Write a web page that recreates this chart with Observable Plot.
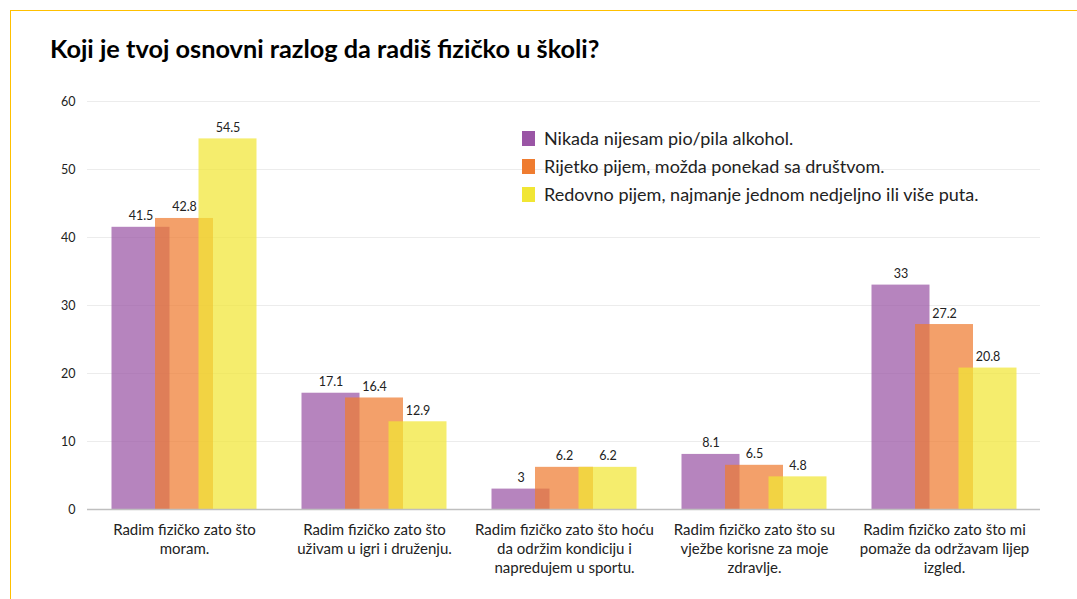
<!DOCTYPE html>
<html><head><meta charset="utf-8">
<script src="https://cdn.jsdelivr.net/npm/d3@7"></script>
<script src="https://cdn.jsdelivr.net/npm/@observablehq/plot@0.6"></script>
<style>
body{margin:0;background:#fff;font-family:Lato,sans-serif;width:1077px;height:599px;overflow:hidden;position:relative;}
#frame{position:absolute;left:10px;top:10px;width:1067px;height:589px;border-top:1.5px solid #ffc000;border-left:1.5px solid #ffc000;box-sizing:border-box;}
#title{position:absolute;left:50px;top:33px;font-size:25.3px;font-weight:700;color:#000;white-space:nowrap;}
#chart{position:absolute;left:0;top:80px;}
#legend{position:absolute;left:522px;top:124px;font-size:18px;color:#222;}
.item{display:flex;align-items:center;height:28px;}
.sw{width:13px;height:15px;margin-right:9px;flex:none;}
</style></head>
<body>
<div id="frame"></div>
<div id="title">Koji je tvoj osnovni razlog da radiš fizičko u školi?</div>
<div id="chart"></div>
<div id="legend"></div>
<script>
const categories = [
  "Radim fizičko zato što moram.",
  "Radim fizičko zato što uživam u igri i druženju.",
  "Radim fizičko zato što hoću da održim kondiciju i napredujem u sportu.",
  "Radim fizičko zato što su vježbe korisne za moje zdravlje.",
  "Radim fizičko zato što mi pomaže da održavam lijep izgled."
];
const tickLabels = [
  "Radim fizičko zato što\nmoram.",
  "Radim fizičko zato što\nuživam u igri i druženju.",
  "Radim fizičko zato što hoću\nda održim kondiciju i\nnapredujem u sportu.",
  "Radim fizičko zato što su\nvježbe korisne za moje\nzdravlje.",
  "Radim fizičko zato što mi\npomaže da održavam lijep\nizgled."
];
const series = [
  "Nikada nijesam pio/pila alkohol.",
  "Rijetko pijem, možda ponekad sa društvom.",
  "Redovno pijem, najmanje jednom nedjeljno ili više puta."
];
const neverValues   = [41.5, 17.1, 3, 8.1, 33];
const rarelyValues  = [42.8, 16.4, 6.2, 6.5, 27.2];
const regularValues = [54.5, 12.9, 6.2, 4.8, 20.8];
const yTicks = [0, 10, 20, 30, 40, 50, 60];

const colors = ["#9a55a5", "#ef7c30", "#f1e634"];
const offsets = [-43.5, 0, 43.5];
const valueSets = [neverValues, rarelyValues, regularValues];

const data = series.flatMap((s, j) => categories.map((c, i) => ({category: c, series: s, si: j, value: valueSets[j][i]})));

const marks = [
  Plot.gridY(yTicks.slice(1), {stroke: "#ececec", strokeOpacity: 1}),
  Plot.axisY({ticks: yTicks, tickSize: 0, tickPadding: 12, fontSize: 12.5, label: null}),
];
series.forEach((s, j) => {
  const d = data.filter(r => r.si === j);
  marks.push(Plot.barY(d, {x: "category", y: "value", fill: colors[j], fillOpacity: 0.72, dx: offsets[j]}));
});
series.forEach((s, j) => {
  const d = data.filter(r => r.si === j);
  marks.push(Plot.text(d, {x: "category", y: "value", text: r => String(r.value), dx: offsets[j], dy: -7, lineAnchor: "bottom", fontSize: 12.5, fill: "#222"}));
});
marks.push(Plot.ruleY([0], {stroke: "#bfbfbf", strokeWidth: 1.5}));
marks.push(Plot.axisX({tickSize: 0, tickPadding: 12, fontSize: 15, lineHeight: 1.27, label: null, fill: "#222",
  tickFormat: c => tickLabels[categories.indexOf(c)]}));

const chart = Plot.plot({
  width: 1077, height: 505,
  marginLeft: 87, marginRight: 37, marginTop: 21, marginBottom: 76,
  style: {fontFamily: "Lato, sans-serif", color: "#222", background: "transparent"},
  x: {domain: categories, paddingInner: 0.696, paddingOuter: 0.348, label: null},
  y: {domain: [0, 60], label: null},
  marks
});
document.getElementById("chart").appendChild(chart);

const legend = document.getElementById("legend");
series.forEach((s, j) => {
  const item = document.createElement("div");
  item.className = "item";
  const sw = document.createElement("div");
  sw.className = "sw";
  sw.style.background = colors[j];
  const t = document.createElement("span");
  t.textContent = s;
  item.appendChild(sw); item.appendChild(t);
  legend.appendChild(item);
});
</script>
</body></html>
